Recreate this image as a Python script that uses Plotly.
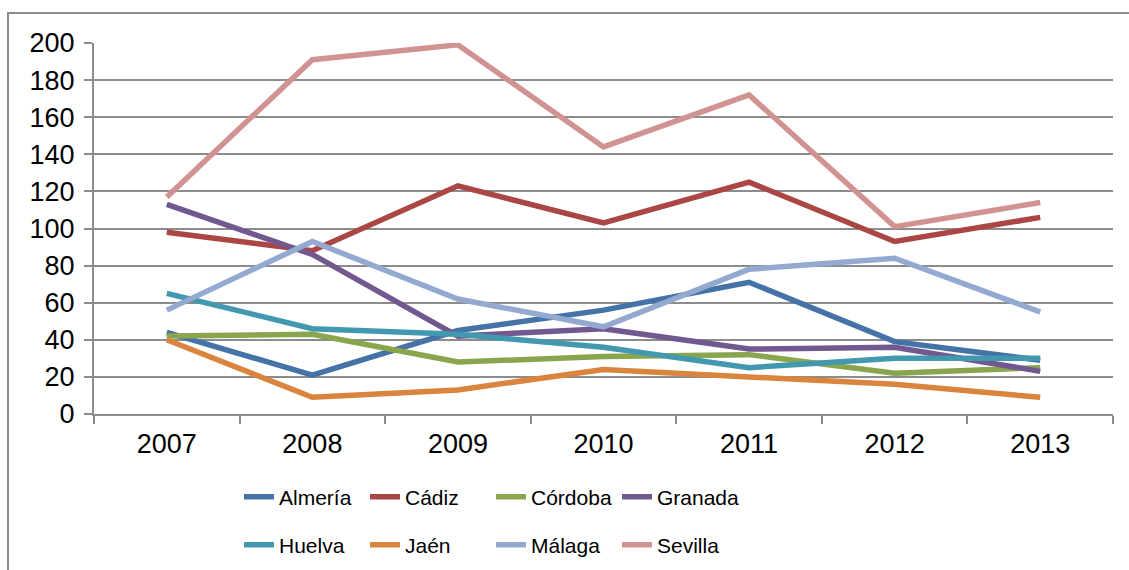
import plotly.graph_objects as go

years = ["2007", "2008", "2009", "2010", "2011", "2012", "2013"]
almeria = [44, 21, 45, 56, 71, 39, 29]
cadiz = [98, 88, 123, 103, 125, 93, 106]
cordoba = [42, 43, 28, 31, 32, 22, 25]
granada = [113, 86, 42, 46, 35, 36, 23]
huelva = [65, 46, 43, 36, 25, 30, 30]
jaen = [40, 9, 13, 24, 20, 16, 9]
malaga = [56, 93, 62, 47, 78, 84, 55]
sevilla = [117, 191, 199, 144, 172, 101, 114]

series = [
    ("Almería", almeria, "#4572A7", "legend"),
    ("Cádiz", cadiz, "#AA4643", "legend"),
    ("Córdoba", cordoba, "#89A54E", "legend"),
    ("Granada", granada, "#71588F", "legend"),
    ("Huelva", huelva, "#4198AF", "legend2"),
    ("Jaén", jaen, "#DB843D", "legend2"),
    ("Málaga", malaga, "#93A9CF", "legend2"),
    ("Sevilla", sevilla, "#D19392", "legend2"),
]

fig = go.Figure()
for name, vals, col, lg in series:
    fig.add_trace(go.Scatter(x=years, y=vals, name=name, mode="lines",
                             line=dict(color=col, width=5.5), legend=lg))

grid = "#8c8c8c"
font = "Liberation Sans, Arial, sans-serif"
lfont = dict(family="Liberation Sans, Arial", size=21, color="black")

leg_common = dict(orientation="h", xanchor="left", yanchor="middle",
                  entrywidth=81, entrywidthmode="pixels", font=lfont,
                  bgcolor="rgba(0,0,0,0)", traceorder="normal")

fig.update_layout(
    width=1129, height=570,
    margin=dict(l=94, r=16, t=43, b=156, autoexpand=False),
    paper_bgcolor="white", plot_bgcolor="white",
    font=dict(family=font, size=27, color="black"),
    showlegend=True,
    legend=dict(x=0.1423, y=(414 - 497) / 371, **leg_common),
    legend2=dict(x=0.1423, y=(414 - 545) / 371, **leg_common),
    xaxis=dict(type="category", showgrid=False, showline=True, linecolor=grid, linewidth=2,
               ticks="outside", tickson="boundaries", ticklen=8, tickcolor=grid, tickwidth=2,
               ticklabelstandoff=5, automargin=False,
               tickfont=dict(size=27, color="black"), range=[-0.5, 6.5]),
    yaxis=dict(range=[0, 200], dtick=20, showgrid=True, gridcolor=grid, gridwidth=2,
               showline=True, linecolor=grid, linewidth=2, zeroline=False,
               ticks="outside", ticklen=8, tickcolor=grid, tickwidth=2, automargin=False,
               ticklabelstandoff=4, tickfont=dict(size=27, color="black")),
)

# outer chart frame (cut off at right and bottom)
fig.add_shape(type="rect", xref="paper", yref="paper",
              x0=(8 - 94) / 1019, x1=1.1, y0=-0.6, y1=(414 - 13) / 371,
              line=dict(color=grid, width=2), layer="below")

fig.write_html("out.html", config={"displayModeBar": False},
               post_script="document.body.style.margin='0';")
